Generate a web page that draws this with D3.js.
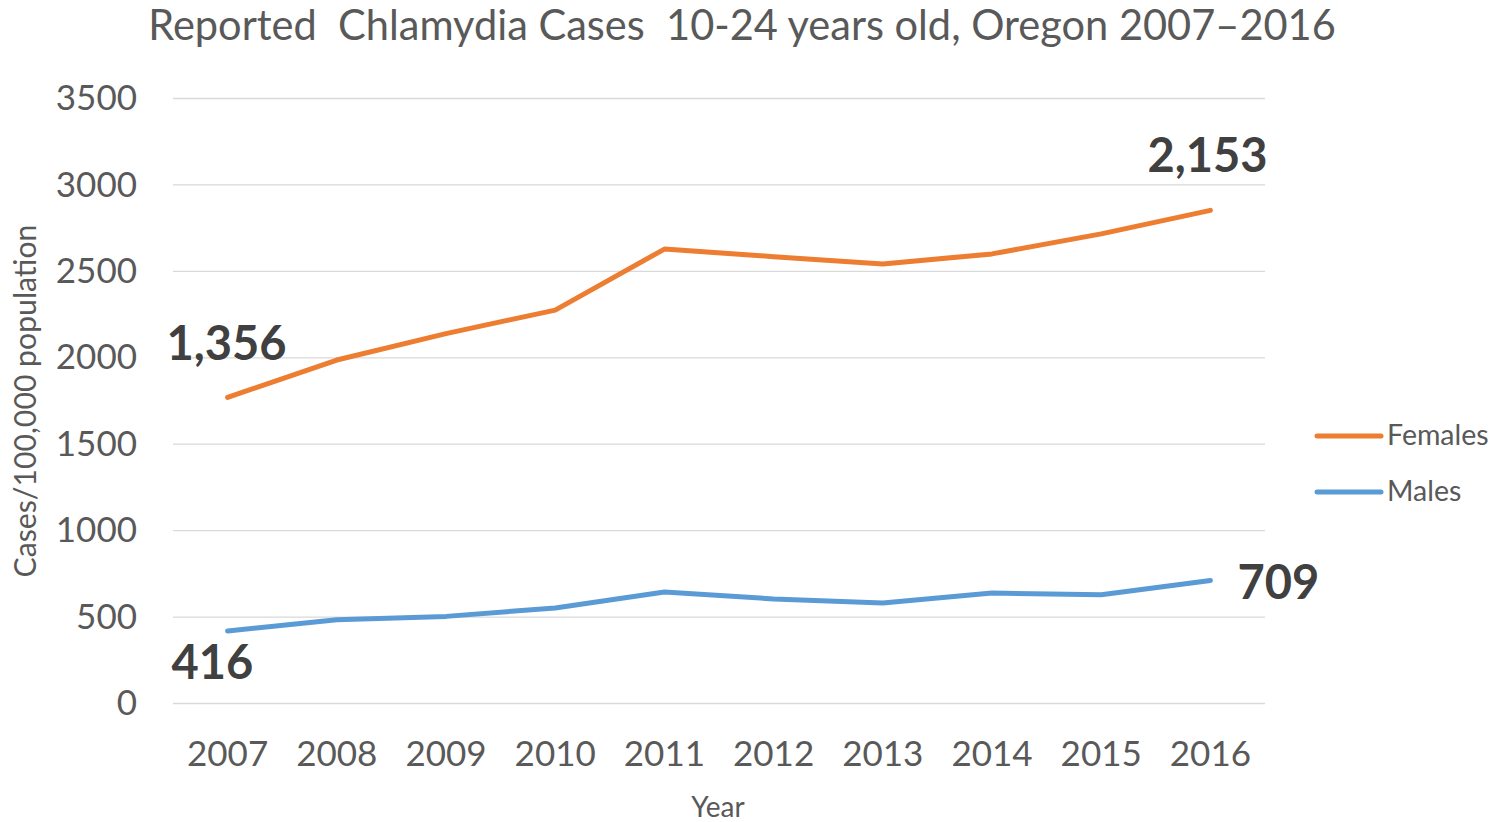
<!DOCTYPE html>
<html>
<head>
<meta charset="utf-8">
<script src="https://cdn.jsdelivr.net/npm/d3@7"></script>
<style>
  html, body { margin: 0; padding: 0; background: #fff; }
  svg { display: block; }
  text { font-family: Lato, "Open Sans", sans-serif; }
</style>
</head>
<body>
<svg id="chart" width="1495" height="822"></svg>
<script>
const years = ["2007","2008","2009","2010","2011","2012","2013","2014","2015","2016"];
const females = [1771, 1987, 2140, 2276, 2629, 2585, 2543, 2601, 2717, 2853];
const males = [420, 485, 504, 553, 645, 605, 581, 639, 629, 712];
const yTicks = [0, 500, 1000, 1500, 2000, 2500, 3000, 3500];
const seriesNames = ["Females", "Males"];
const seriesColors = ["#ED7D31", "#5B9BD5"];
const annotations = [
  { series: 0, index: 0, text: "1,356" },
  { series: 0, index: 9, text: "2,153" },
  { series: 1, index: 0, text: "416" },
  { series: 1, index: 9, text: "709" }
];
const titleText = "Reported  Chlamydia Cases  10-24 years old, Oregon 2007\u20132016";

const svg = d3.select("#chart");
const m = { left: 173, right: 1265, top: 98.5, bottom: 703.5 };

const x = d3.scaleBand().domain(years).range([m.left, m.right]);
const y = d3.scaleLinear().domain([0, 3500]).range([m.bottom, m.top]);
const cx = d => x(d) + x.bandwidth() / 2;

function fitText(sel, targetWidth) {
  const node = sel.node();
  const fs = parseFloat(sel.attr("font-size"));
  const w = node.getComputedTextLength();
  sel.attr("font-size", fs * targetWidth / w);
}

// title
const title = svg.append("text")
  .attr("x", 742).attr("y", 40)
  .attr("text-anchor", "middle")
  .attr("font-size", 38)
  .attr("fill", "#595959")
  .style("white-space", "pre")
  .text(titleText);
fitText(title, 1188);

// gridlines
svg.append("g")
  .selectAll("line").data(yTicks).join("line")
  .attr("x1", m.left).attr("x2", m.right)
  .attr("y1", d => y(d)).attr("y2", d => y(d))
  .attr("stroke", "#D9D9D9").attr("stroke-width", 1.3);

// y axis
const yAxis = svg.append("g")
  .attr("transform", `translate(${m.left},0)`)
  .call(d3.axisLeft(y).tickValues(yTicks).tickSize(0).tickPadding(36).tickFormat(d3.format("d")));
yAxis.select(".domain").remove();
yAxis.selectAll("text")
  .attr("font-size", 35).attr("fill", "#595959")
  .style("font-family", "Lato, 'Open Sans', sans-serif");

// x axis
const xAxis = svg.append("g")
  .attr("transform", `translate(0,${m.bottom})`)
  .call(d3.axisBottom(x).tickSize(0).tickPadding(38));
xAxis.select(".domain").remove();
xAxis.selectAll("text")
  .attr("font-size", 35).attr("fill", "#595959")
  .style("font-family", "Lato, 'Open Sans', sans-serif");

// axis titles
svg.append("text")
  .attr("x", 718).attr("y", 817)
  .attr("text-anchor", "middle")
  .attr("font-size", 28).attr("fill", "#595959")
  .text("Year");

const yTitle = svg.append("text")
  .attr("transform", "translate(36,401) rotate(-90)")
  .attr("text-anchor", "middle")
  .attr("font-size", 27).attr("fill", "#595959")
  .text("Cases/100,000 population");
fitText(yTitle, 353);

// lines
const data = [females, males];
const line = d3.line().x((d, i) => cx(years[i])).y(d => y(d));
svg.append("g")
  .selectAll("path").data(data).join("path")
  .attr("d", d => line(d))
  .attr("fill", "none")
  .attr("stroke", (d, i) => seriesColors[i])
  .attr("stroke-width", 5)
  .attr("stroke-linecap", "round")
  .attr("stroke-linejoin", "round");

// annotations
const annPos = [
  { dx: -61, dy: -37, anchor: "start" },
  { dx: -63, dy: -38, anchor: "start" },
  { dx: -56, dy: 48, anchor: "start" },
  { dx: 27, dy: 19, anchor: "start" }
];
svg.append("g")
  .selectAll("text").data(annotations).join("text")
  .attr("x", (d, i) => cx(years[d.index]) + annPos[i].dx)
  .attr("y", (d, i) => y(data[d.series][d.index]) + annPos[i].dy)
  .attr("text-anchor", (d, i) => annPos[i].anchor)
  .attr("font-size", 47)
  .attr("font-weight", "bold")
  .attr("fill", "#404040")
  .text(d => d.text);

// legend
const legend = svg.append("g");
const legY = [436, 492];
seriesNames.forEach((name, i) => {
  legend.append("line")
    .attr("x1", 1317).attr("x2", 1381)
    .attr("y1", legY[i]).attr("y2", legY[i])
    .attr("stroke", seriesColors[i]).attr("stroke-width", 5)
    .attr("stroke-linecap", "round");
  legend.append("text")
    .attr("x", 1387).attr("y", legY[i] + 9)
    .attr("font-size", 28.5).attr("fill", "#595959")
    .text(name);
});
</script>
</body>
</html>
